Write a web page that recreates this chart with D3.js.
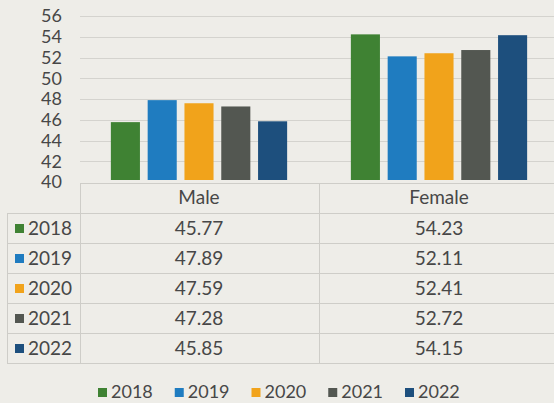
<!DOCTYPE html>
<html>
<head>
<meta charset="utf-8">
<script src="https://cdn.jsdelivr.net/npm/d3@7"></script>
<style>
  html, body { margin: 0; padding: 0; background: #eeede8; }
  svg { display: block; }
  text { font-family: Lato, "Open Sans", sans-serif; fill: #474747; }
</style>
</head>
<body>
<svg id="chart" width="554" height="403"></svg>
<script>
// ---- data ----
const categories = ["Male", "Female"];
const years = ["2018", "2019", "2020", "2021", "2022"];
const maleValues = [45.77, 47.89, 47.59, 47.28, 45.85];
const femaleValues = [54.23, 52.11, 52.41, 52.72, 54.15];
const maleLabels = ["45.77", "47.89", "47.59", "47.28", "45.85"];
const femaleLabels = ["54.23", "52.11", "52.41", "52.72", "54.15"];
const yTickValues = [40, 42, 44, 46, 48, 50, 52, 54, 56];
const colors = ["#3f8233", "#1f7cc0", "#f1a31b", "#535751", "#1d4f7d"];

const seriesByCat = { Male: maleValues, Female: femaleValues };
const labelsByCat = { Male: maleLabels, Female: femaleLabels };

const svg = d3.select("#chart");

// ---- scales ----
const x0 = d3.scaleBand().domain(categories).range([79, 559]);
const x1 = d3.scaleBand().domain(years).range([28, 212]).paddingInner(0.21).paddingOuter(0.105);
const y = d3.scaleLinear().domain([40, 56]).range([182, 16]);
const color = d3.scaleOrdinal().domain(years).range(colors);

// ---- gridlines ----
svg.append("g")
  .selectAll("line")
  .data(yTickValues.filter(v => v > 40))
  .join("line")
  .attr("x1", 80).attr("x2", 554)
  .attr("y1", d => Math.round(y(d)) + 0.5).attr("y2", d => Math.round(y(d)) + 0.5)
  .attr("stroke", "#d4d3ce").attr("stroke-width", 1);

// ---- y axis ----
const yAxis = d3.axisLeft(y).tickValues(yTickValues).tickSize(0).tickPadding(18);
const yg = svg.append("g").attr("transform", "translate(80,0)").call(yAxis);
yg.select(".domain").remove();
yg.selectAll("text")
  .style("font-family", "Lato, sans-serif")
  .style("font-size", "18px")
  .attr("fill", "#474747");

// ---- bars ----
svg.append("g")
  .selectAll("g")
  .data(categories)
  .join("g")
  .attr("transform", d => `translate(${x0(d)},0)`)
  .selectAll("rect")
  .data(cat => years.map((yr, i) => ({ yr, v: seriesByCat[cat][i] })))
  .join("rect")
  .attr("x", d => x1(d.yr))
  .attr("width", x1.bandwidth())
  .attr("y", d => y(d.v))
  .attr("height", d => y(40) - 2 - y(d.v))
  .attr("fill", d => color(d.yr));

// ---- data table ----
const rows = d3.scaleBand().domain(["header", ...years]).range([183, 363]);
const tbl = svg.append("g").attr("stroke", "#cecdc8").attr("stroke-width", 1);
tbl.append("line").attr("x1", 80).attr("x2", 559).attr("y1", 183.5).attr("y2", 183.5);
years.forEach(yr => {
  tbl.append("line").attr("x1", 7).attr("x2", 559)
    .attr("y1", Math.round(rows(yr)) + 0.5).attr("y2", Math.round(rows(yr)) + 0.5);
});
tbl.append("line").attr("x1", 7).attr("x2", 559).attr("y1", 363.5).attr("y2", 363.5);
tbl.append("line").attr("x1", 7.5).attr("x2", 7.5).attr("y1", rows(years[0])).attr("y2", 363);
tbl.append("line").attr("x1", 80.5).attr("x2", 80.5).attr("y1", 183).attr("y2", 363);
tbl.append("line").attr("x1", 319.5).attr("x2", 319.5).attr("y1", 183).attr("y2", 363);

// header
svg.append("g").selectAll("text")
  .data(categories)
  .join("text")
  .attr("x", d => x0(d) + x0.bandwidth() / 2)
  .attr("y", rows("header") + rows.bandwidth() / 2 + 6)
  .attr("text-anchor", "middle")
  .style("font-size", "19px")
  .text(d => d);

// row labels with swatches
const rowLab = svg.append("g").selectAll("g").data(years).join("g")
  .attr("transform", d => `translate(0,${rows(d) + rows.bandwidth() / 2})`);
rowLab.append("rect").attr("x", 15).attr("y", -4).attr("width", 9).attr("height", 9)
  .attr("fill", d => color(d));
rowLab.append("text").attr("x", 28).attr("y", 7).style("font-size", "19px").text(d => d);

// values
categories.forEach(cat => {
  svg.append("g").selectAll("text")
    .data(years.map((yr, i) => ({ yr, t: labelsByCat[cat][i] })))
    .join("text")
    .attr("x", x0(cat) + x0.bandwidth() / 2)
    .attr("y", d => rows(d.yr) + rows.bandwidth() / 2 + 7)
    .attr("text-anchor", "middle")
    .style("font-size", "19px")
    .text(d => d.t);
});

// ---- bottom legend ----
const lx = d3.scalePoint().domain(years).range([98, 405]);
const leg = svg.append("g").selectAll("g").data(years).join("g")
  .attr("transform", d => `translate(${lx(d)},392)`);
leg.append("rect").attr("x", 0).attr("y", -4).attr("width", 9).attr("height", 9)
  .attr("fill", d => color(d));
leg.append("text").attr("x", 13).attr("y", 6).style("font-size", "18px").text(d => d);
</script>
</body>
</html>
